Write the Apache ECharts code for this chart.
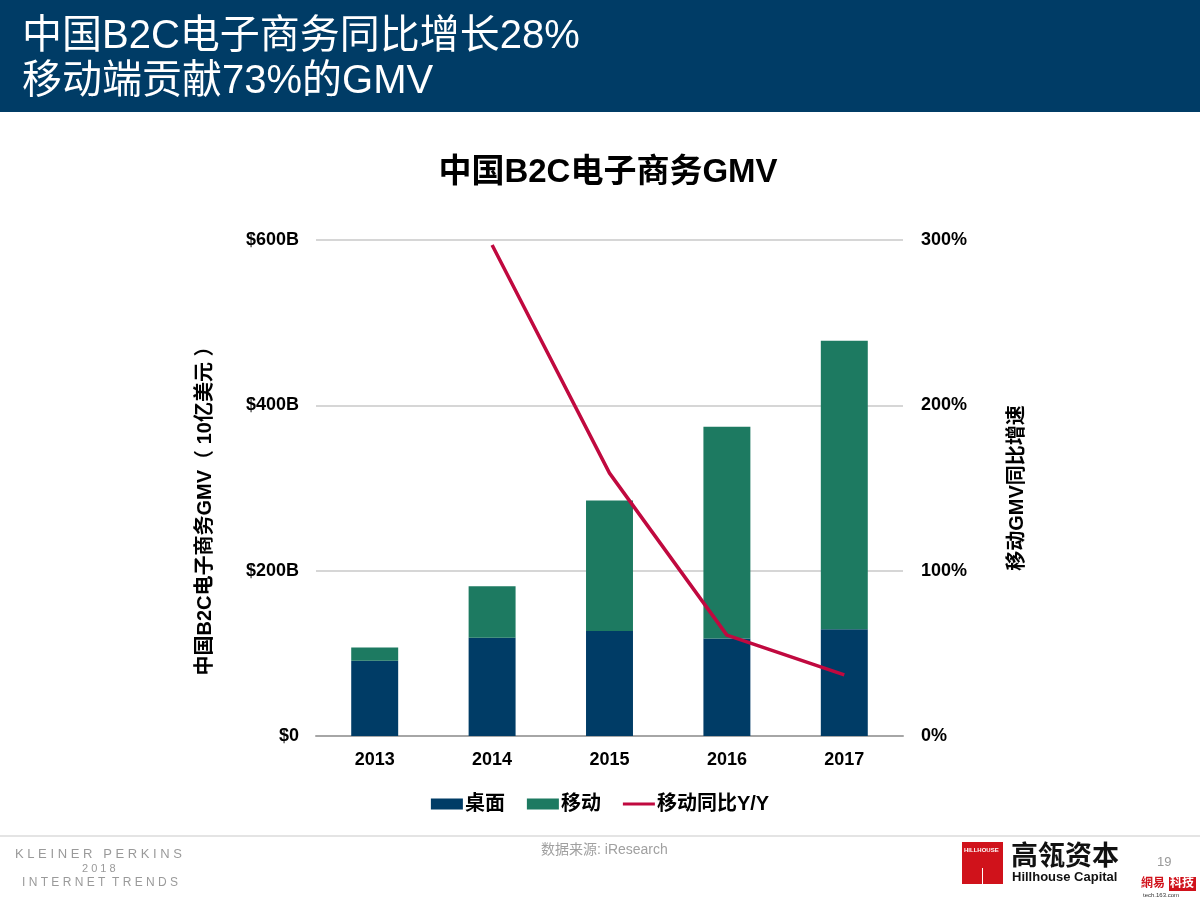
<!DOCTYPE html>
<html><head><meta charset="utf-8">
<script src="https://cdn.jsdelivr.net/npm/echarts@6/dist/echarts.min.js"></script>
<style>html,body{margin:0;padding:0;background:#fff}#c{width:1200px;height:900px}</style>
</head><body><div id="c"></div>
<script>
const categories = ['2013','2014','2015','2016','2017'];
const desktopValues = [91, 119, 127, 118, 129];
const mobileValues = [16, 62, 158, 256, 349];
const mobileYoY = [null, 297, 159, 61, 37];
const leftTicks = ['$0','$200B','$400B','$600B'];
const rightTicks = ['0%','100%','200%','300%'];

const FONT = '"Liberation Sans","Noto Sans CJK SC",Arial,sans-serif';
const NAVY = '#003C66', GREEN = '#1D7A61', RED = '#C0093F';
const chart = echarts.init(document.getElementById('c'));
chart.setOption({
  backgroundColor: '#fff',
  animation: false,
  textStyle: { fontFamily: FONT },
  title: {
    text: '中国B2C电子商务GMV', left: 603, top: 151, textAlign: 'center',
    textStyle: { fontFamily: FONT, fontSize: 33, fontWeight: 'bold', color: '#000' }
  },
  grid: { left: 316, right: 297, top: 240, bottom: 164, containLabel: false },
  legend: {
    top: 789, left: 'center', itemGap: 22, itemWidth: 32, itemHeight: 11,
    textStyle: { fontFamily: FONT, fontSize: 20, fontWeight: 'bold', color: '#000', padding: [0,0,0,-3] },
    data: [
      { name: '桌面', icon: 'rect' },
      { name: '移动', icon: 'rect' },
      { name: '移动同比Y/Y', icon: 'path://M0,4 L32,4 L32,7 L0,7 Z' }
    ]
  },
  xAxis: {
    type: 'category', data: categories,
    axisLine: { lineStyle: { color: '#A6A6A6', width: 2 } },
    axisTick: { show: false },
    axisLabel: { fontFamily: FONT, fontSize: 18, fontWeight: 'bold', color: '#000', margin: 15 }
  },
  yAxis: [
    {
      type: 'value', min: 0, max: 600, interval: 200,
      name: '中国B2C电子商务GMV（ 10亿美元 ）', nameLocation: 'middle', nameGap: 101, nameRotate: 90,
      nameTextStyle: { fontFamily: FONT, fontSize: 20, fontWeight: 'bold', color: '#000', padding: [0, 36, 0, 0] },
      axisLine: { show: false }, axisTick: { show: false },
      splitLine: { lineStyle: { color: '#C8C8C8', width: 1.5 } },
      axisLabel: { fontFamily: FONT, fontSize: 18, fontWeight: 'bold', color: '#000', margin: 17,
        formatter: v => leftTicks[v / 200] }
    },
    {
      type: 'value', min: 0, max: 300, interval: 100, position: 'right',
      name: '移动GMV同比增速', nameLocation: 'middle', nameGap: 104, nameRotate: 90,
      nameTextStyle: { fontFamily: FONT, fontSize: 20, fontWeight: 'bold', color: '#000' },
      axisLine: { show: false }, axisTick: { show: false }, splitLine: { show: false },
      axisLabel: { fontFamily: FONT, fontSize: 18, fontWeight: 'bold', color: '#000', margin: 18,
        formatter: v => rightTicks[v / 100] }
    }
  ],
  series: [
    { name: '桌面', type: 'bar', stack: 'gmv', data: desktopValues, barWidth: '40%',
      itemStyle: { color: NAVY } },
    { name: '移动', type: 'bar', stack: 'gmv', data: mobileValues, barWidth: '40%',
      itemStyle: { color: GREEN } },
    { name: '移动同比Y/Y', type: 'line', yAxisIndex: 1, data: mobileYoY, symbol: 'none',
      lineStyle: { color: RED, width: 3.5 }, itemStyle: { color: RED }, z: 5 }
  ],
  graphic: [
    { type: 'rect', left: 0, top: 0, shape: { width: 1200, height: 112 }, style: { fill: '#003C66' } },
    { type: 'text', left: 22, top: 17, style: { text: '中国B2C电子商务同比增长28%', fill: '#fff', font: '40px ' + FONT } },
    { type: 'text', left: 22, top: 62, style: { text: '移动端贡献73%的GMV', fill: '#fff', font: '40px ' + FONT } },
    { type: 'rect', left: 0, top: 835, shape: { width: 1200, height: 2 }, style: { fill: '#E4E4E4' } },
    { type: 'text', left: 15, top: 848, style: { text: 'K L E I N E R   P E R K I N S', fill: '#9A9A9A', font: '13px ' + FONT } },
    { type: 'text', left: 82, top: 863, style: { text: '2 0 1 8', fill: '#9A9A9A', font: '11px ' + FONT } },
    { type: 'text', left: 22, top: 877, style: { text: 'I N T E R N E T  T R E N D S', fill: '#9A9A9A', font: '12px ' + FONT } },
    { type: 'text', left: 541, top: 843, style: { text: '数据来源: iResearch', fill: '#A0A0A0', font: '14px ' + FONT } },
    { type: 'rect', left: 962, top: 842, shape: { width: 41, height: 42 }, style: { fill: '#D0121B' } },
    { type: 'text', left: 964, top: 847, style: { text: 'HILLHOUSE', fill: '#fff', font: 'bold 6px ' + FONT } },
    { type: 'rect', left: 982, top: 868, shape: { width: 1, height: 16 }, style: { fill: '#fff' } },
    { type: 'text', left: 1011, top: 841, style: { text: '高瓴资本', fill: '#111', font: 'bold 27px "Noto Sans CJK SC",sans-serif' } },
    { type: 'text', left: 1012, top: 871, style: { text: 'Hillhouse Capital', fill: '#111', font: 'bold 13px ' + FONT } },
    { type: 'text', left: 1157, top: 856, style: { text: '19', fill: '#999', font: '13px ' + FONT } },
    { type: 'text', left: 1141, top: 876, style: { text: '網易', fill: '#D0121B', font: 'bold 12px "Noto Sans CJK TC",sans-serif' } },
    { type: 'rect', left: 1169, top: 877, shape: { width: 27, height: 14 }, style: { fill: '#D0121B' } },
    { type: 'text', left: 1170, top: 876, style: { text: '科技', fill: '#fff', font: 'bold 12px "Noto Sans CJK TC",sans-serif' } },
    { type: 'text', left: 1143, top: 892, style: { text: 'tech.163.com', fill: '#333', font: '6px ' + FONT } }
  ]
});
</script></body></html>
